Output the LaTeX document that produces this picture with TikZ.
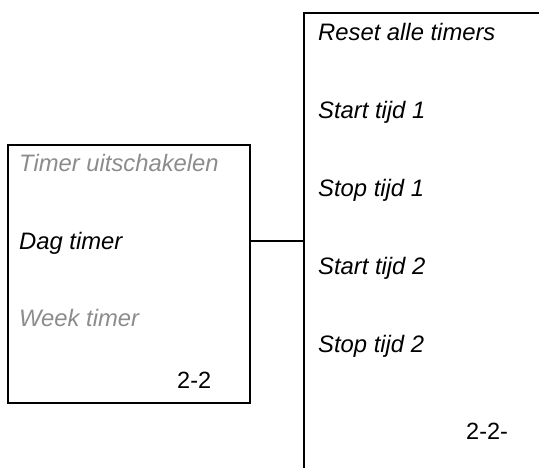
\documentclass[tikz,border=0pt]{standalone}
\usepackage{fontspec}
\setmainfont{Liberation Sans}
\usepackage{xcolor}
\usetikzlibrary{positioning}
\definecolor{greytext}{HTML}{8C8C8C}
\begin{document}
\begin{tikzpicture}[
  x=1pt, y=-1pt,
  menubox/.style={rectangle, draw, line width=1.5pt, inner sep=0pt},
  item/.style={anchor=base west, inner sep=0pt, font=\fontsize{23.8}{28}\selectfont\itshape},
  greyitem/.style={item, text=greytext},
  pagenr/.style={anchor=base west, inner sep=0pt, font=\fontsize{23.5}{28}\selectfont}
]
  \useasboundingbox[clip] (0,0) rectangle (539,467);
  \node[menubox, minimum width=242pt, minimum height=258pt] (menu) at (129,274) {};
  \node[menubox, minimum width=300pt, minimum height=500pt] (sub) at (454,263) {};
  \node[greyitem] (uit) at (19,171) {Timer uitschakelen};
  \node[item] (dag) at (19,249) {Dag timer};
  \node[greyitem] (week) at (19,326) {Week timer};
  \node[pagenr] (nr) at (177,388) {2-2};
  \node[item] (reset) at (318,40) {Reset alle timers};
  \node[item] (start1) at (318,118) {Start tijd 1};
  \node[item] (stop1) at (318,196) {Stop tijd 1};
  \node[item] (start2) at (318,274) {Start tijd 2};
  \node[item] (stop2) at (318,352) {Stop tijd 2};
  \node[pagenr] (subnr) at (466,439) {2-2-};
  \draw[line width=1.2pt] (menu.east |- 0,241) -- (sub.west |- 0,241);
\end{tikzpicture}
\end{document}
